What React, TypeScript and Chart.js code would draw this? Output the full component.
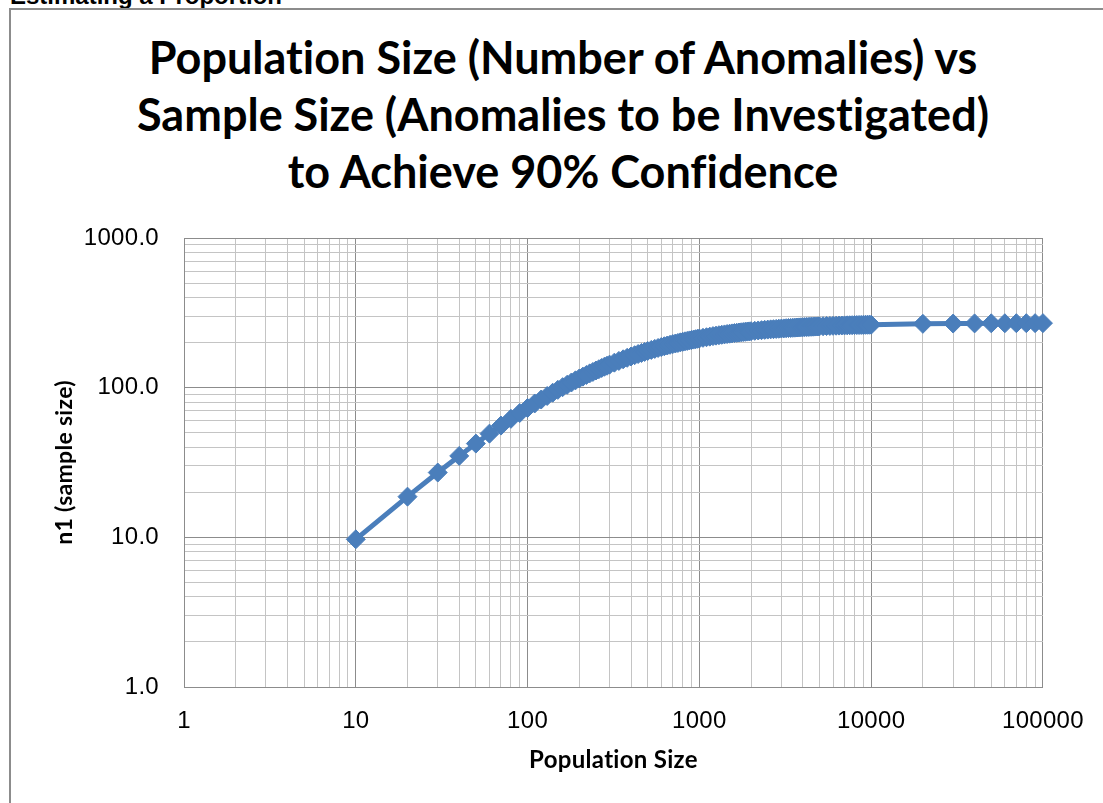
import { useEffect, useRef } from 'react';
import { Chart, registerables } from 'chart.js';

Chart.register(...registerables);

// Population size (x) and required sample size n1 (y)
const populations = [
  10, 20, 30, 40, 50, 60, 70, 80, 90,
  100, 110, 120, 130, 140, 150, 160, 170, 180, 190, 200, 210, 220, 230, 240, 250, 260, 270, 280, 290, 300,
  320, 340, 360, 380, 400, 420, 440, 460, 480, 500,
  525, 550, 575, 600, 625, 650, 675, 700, 725, 750, 775, 800, 825, 850, 875, 900, 925, 950, 975, 1000,
  1050, 1100, 1150, 1200, 1250, 1300, 1350, 1400, 1450, 1500, 1550, 1600, 1650, 1700, 1750, 1800, 1850, 1900, 1950, 2000,
  2100, 2200, 2300, 2400, 2500, 2600, 2700, 2800, 2900, 3000, 3100, 3200, 3300, 3400, 3500, 3600, 3700, 3800, 3900, 4000,
  4100, 4200, 4300, 4400, 4500, 4600, 4700, 4800, 4900, 5000,
  5250, 5500, 5750, 6000, 6250, 6500, 6750, 7000, 7250, 7500, 7750, 8000, 8250, 8500, 8750, 9000, 9250, 9500, 9750, 10000,
  20000, 30000, 40000, 50000, 60000, 70000, 80000, 90000, 100000,
];
const sampleSizes = [
  9.7, 18.7, 27.1, 35.0, 42.3, 49.3, 55.8, 61.9, 67.7,
  73.2, 78.4, 83.3, 88.0, 92.5, 96.7, 100.8, 104.6, 108.3, 111.9, 115.2, 118.5, 121.6, 124.6, 127.4, 130.2, 132.8, 135.4, 137.9, 140.2, 142.5,
  146.9, 150.9, 154.7, 158.3, 161.6, 164.8, 167.8, 170.6, 173.3, 175.8,
  178.8, 181.6, 184.2, 186.7, 189.1, 191.3, 193.4, 195.4, 197.3, 199.0, 200.8, 202.4, 204.0, 205.4, 206.9, 208.2, 209.5, 210.8, 212.0, 213.1,
  215.3, 217.3, 219.2, 221.0, 222.6, 224.1, 225.6, 226.9, 228.2, 229.4, 230.5, 231.6, 232.6, 233.6, 234.5, 235.3, 236.2, 237.0, 237.7, 238.5,
  239.8, 241.1, 242.2, 243.3, 244.3, 245.2, 246.0, 246.8, 247.6, 248.3, 248.9, 249.6, 250.2, 250.7, 251.2, 251.7, 252.2, 252.7, 253.1, 253.5,
  253.9, 254.3, 254.6, 255.0, 255.3, 255.6, 255.9, 256.2, 256.5, 256.8,
  257.4, 258.0, 258.5, 259.0, 259.4, 259.8, 260.2, 260.6, 260.9, 261.2, 261.5, 261.8, 262.0, 262.3, 262.5, 262.7, 262.9, 263.1, 263.3, 263.5,
  267.0, 268.2, 268.8, 269.1, 269.4, 269.6, 269.7, 269.8, 269.9,
];

const xDecades = [1, 10, 100, 1000, 10000, 100000];
const xTickLabels = ['1', '10', '100', '1000', '10000', '100000'];
const yDecades = [1, 10, 100, 1000];
const yTickLabels = ['1.0', '10.0', '100.0', '1000.0'];

const titleLines = [
  'Population Size (Number of Anomalies) vs',
  'Sample Size (Anomalies to be Investigated)',
  'to Achieve 90% Confidence',
];
const xTitle = 'Population Size';
const yTitle = 'n1 (sample size)';
const sectionHeading = 'Estimating a Proportion';

const SERIES_COLOR = '#4a7ebb';

function gridValues(decades: number[]): number[] {
  const out: number[] = [];
  decades.forEach((d, i) => {
    if (i === decades.length - 1) {
      out.push(d);
      return;
    }
    for (let k = 1; k < 10; k++) out.push(d * k);
  });
  return out;
}

function isPow10(v: number): boolean {
  const l = Math.log10(v);
  return Math.abs(l - Math.round(l)) < 1e-9;
}

const TICK_FONT = { family: '"Liberation Sans", Arial, sans-serif', size: 24 };
const TITLE_FONT_FAMILY = 'Lato, "Open Sans", sans-serif';

const noLigatures = {
  id: 'noLigatures',
  beforeDraw(chart: any) {
    try {
      chart.ctx.letterSpacing = '0.3px';
    } catch (e) {
      /* ignore */
    }
  },
};

export default function App() {
  const canvasRef = useRef<HTMLCanvasElement | null>(null);

  useEffect(() => {
    const canvas = canvasRef.current;
    if (!canvas) return;
    const xGrid = gridValues(xDecades);
    const yGrid = gridValues(yDecades);
    const gridColor = (ctx: any) =>
      ctx.tick && isPow10(ctx.tick.value) ? '#8c8c8c' : '#c4c4c4';

    const chart = new Chart(canvas, {
      type: 'line',
      plugins: [noLigatures],
      data: {
        datasets: [
          {
            data: populations.map((p, i) => ({ x: p, y: sampleSizes[i] })),
            borderColor: SERIES_COLOR,
            backgroundColor: SERIES_COLOR,
            borderWidth: 5,
            pointStyle: 'rectRot',
            pointRadius: 9.5,
            pointHoverRadius: 9.5,
            pointBorderWidth: 1,
            pointBorderColor: SERIES_COLOR,
            pointBackgroundColor: SERIES_COLOR,
            tension: 0,
            clip: false as any,
          },
        ],
      },
      options: {
        animation: false,
        responsive: false,
        events: [],
        layout: { padding: { top: 238, right: 58, bottom: 0, left: 0 } },
        plugins: {
          legend: { display: false },
          title: { display: false },
          tooltip: { enabled: false },
        },
        scales: {
          x: {
            type: 'logarithmic',
            position: 'bottom',
            min: 1,
            max: 100000,
            afterBuildTicks: (s: any) => {
              s.ticks = xGrid.map((v) => ({ value: v, major: isPow10(v) }));
            },
            afterFit: (s: any) => {
              s.height = 116;
            },
            ticks: {
              autoSkip: false,
              maxRotation: 0,
              minRotation: 0,
              padding: 20,
              color: '#000',
              font: TICK_FONT,
              callback: (v: any) => {
                const i = xDecades.indexOf(Number(v));
                return i >= 0 ? xTickLabels[i] : '';
              },
            },
            grid: { color: gridColor, lineWidth: 1, drawTicks: false },
            border: { color: '#8c8c8c', width: 1 },
            title: {
              display: true,
              text: xTitle,
              color: '#000',
              font: { family: TITLE_FONT_FAMILY, size: 24, weight: 'bold' },
              padding: { top: 0, bottom: 28 },
            },
          },
          y: {
            type: 'logarithmic',
            position: 'left',
            min: 1,
            max: 1000,
            afterBuildTicks: (s: any) => {
              s.ticks = yGrid.map((v) => ({ value: v, major: isPow10(v) }));
            },
            afterFit: (s: any) => {
              s.width = 184;
            },
            ticks: {
              autoSkip: false,
              padding: 25,
              color: '#000',
              font: TICK_FONT,
              callback: (v: any) => {
                const i = yDecades.indexOf(Number(v));
                return i >= 0 ? yTickLabels[i] : '';
              },
            },
            grid: { color: gridColor, lineWidth: 1, drawTicks: false },
            border: { color: '#8c8c8c', width: 1 },
            title: {
              display: true,
              text: yTitle,
              color: '#000',
              font: { family: TITLE_FONT_FAMILY, size: 23, weight: 'bold' },
              padding: { top: 51, bottom: 0 },
            },
          },
        },
      } as any,
    });
    return () => chart.destroy();
  }, []);

  return (
    <div
      style={{
        position: 'fixed',
        left: 0,
        top: 0,
        width: 1103,
        height: 803,
        background: '#fff',
        overflow: 'hidden',
      }}
    >
      <div
        style={{
          position: 'absolute',
          left: 10,
          top: -16,
          fontFamily: '"Liberation Sans", Arial, sans-serif',
          fontWeight: 'bold',
          fontSize: 24,
          lineHeight: '24px',
          whiteSpace: 'nowrap',
          color: '#000',
        }}
      >
        {sectionHeading}
      </div>
      <div
        style={{
          position: 'absolute',
          left: 9,
          top: 8,
          width: 1200,
          height: 900,
          borderLeft: '2px solid #8c8c8c',
          borderTop: '2px solid #8c8c8c',
        }}
      />
      <div
        style={{
          position: 'absolute',
          left: 0,
          top: 29,
          width: 1126,
          textAlign: 'center',
          fontFamily: TITLE_FONT_FAMILY,
          fontWeight: 'bold',
          fontSize: 45,
          lineHeight: '57px',
          fontVariantLigatures: 'none',
          color: '#000',
          whiteSpace: 'nowrap',
        }}
      >
        {titleLines.map((t) => (
          <div key={t}>{t}</div>
        ))}
      </div>
      <canvas
        ref={canvasRef}
        width={1103}
        height={803}
        style={{ position: 'absolute', left: 0, top: 0 }}
      />
    </div>
  );
}
